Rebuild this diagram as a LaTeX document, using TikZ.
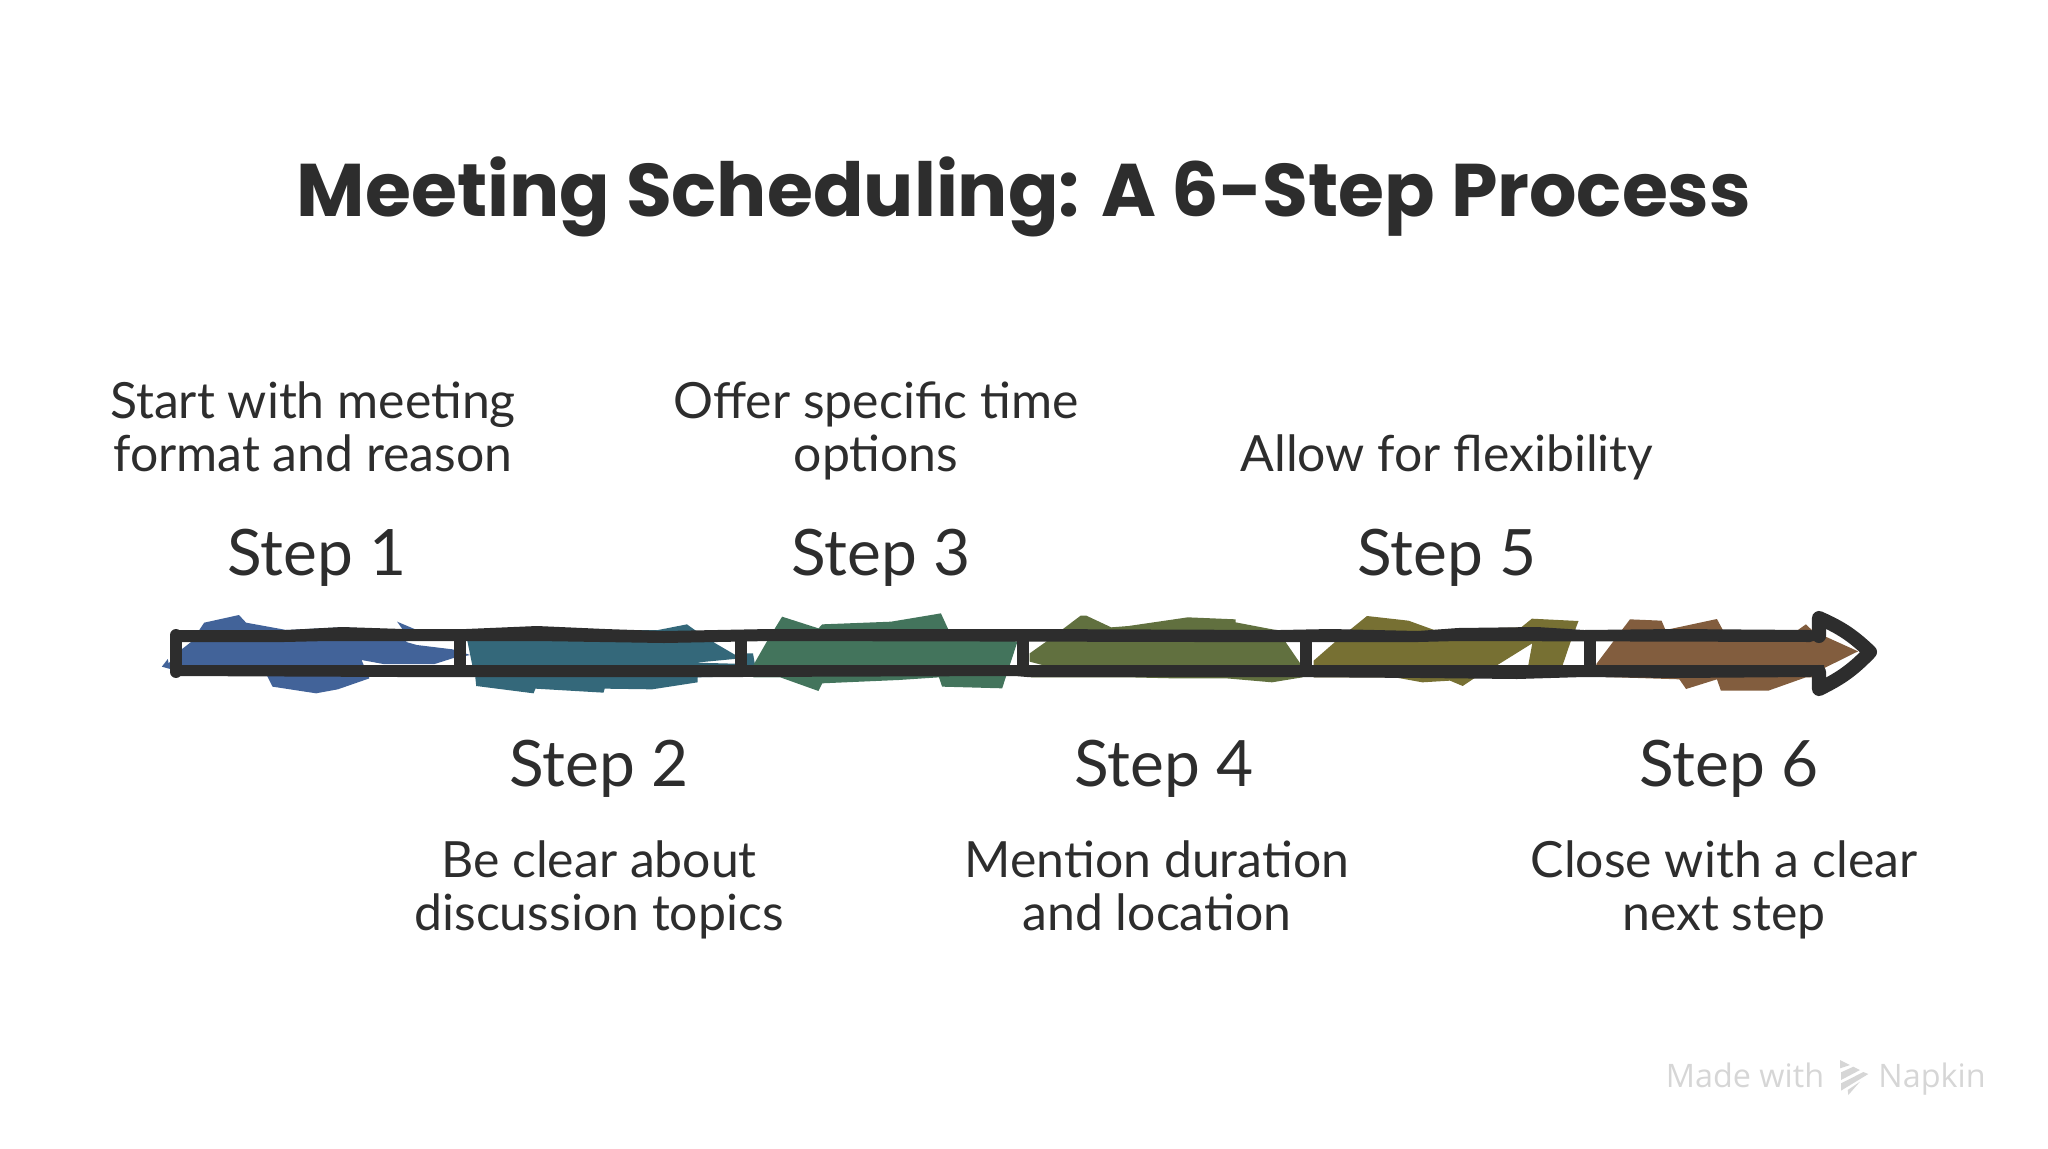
\documentclass[tikz,border=0pt]{standalone}
\usepackage{fontspec}
\setmainfont{Lato}
\newfontfamily\titlefont{Poppins}
\newfontfamily\markfont{Open Sans}
\definecolor{InkDark}{RGB}{45,45,45}
\definecolor{MarkGray}{RGB}{214,214,214}
\definecolor{StepBlue}{RGB}{66,99,153}
\definecolor{StepTeal}{RGB}{52,104,122}
\definecolor{StepGreen}{RGB}{67,116,92}
\definecolor{StepOlive}{RGB}{97,112,63}
\definecolor{StepMustard}{RGB}{119,112,51}
\definecolor{StepBrown}{RGB}{130,93,62}
\def\z{0.3333}
\tikzset{
    titletext/.style={font=\titlefont\bfseries\fontsize{21.2}{26}\selectfont, text=InkDark},
    steptext/.style={font=\fontsize{18.2}{22}\selectfont, text=InkDark},
    desctext/.style={font=\fontsize{14.2}{15.08}\selectfont, text=InkDark, align=center},
    marktext/.style={font=\markfont\fontsize{9.2}{11}\selectfont, text=MarkGray, anchor=base},
    barline/.style={line width=3.4pt, draw=InkDark},
}

\begin{document}
\begin{tikzpicture}[x=0.01cm, y=-0.01cm]
\useasboundingbox (0,0) rectangle (2048,1148);

% titulo
\node[titletext] (title) at (1024,197) {Meeting Scheduling: A 6-Step Process};

% manchas
\begin{scope}[shift={(150,590)}, xscale=0.3954, yscale=\z]
\fill[StepBlue] (30,230) -- (45,207) -- (47,220) -- (80,178) -- (105,155) -- (137,98) -- (225,75) -- (243,98) -- (345,120)
    -- (485,112) -- (640,120) -- (625,95) -- (675,120) -- (665,150) -- (645,155) -- (675,165) -- (765,178) -- (810,195)
    -- (765,205) -- (720,222) -- (590,222) -- (535,210) -- (555,265) -- (475,298) -- (420,310) -- (310,290) -- (295,255)
    -- (60,240) -- cycle;
\fill[StepTeal] (803,155) -- (800,120) -- (1285,120) -- (1358,103) -- (1378,120) -- (1430,160) -- (1495,205) -- (1380,218)
    -- (1510,222) -- (1510,190) -- (1525,190) -- (1535,258) -- (1385,262) -- (1385,277) -- (1270,298) -- (1150,296)
    -- (1147,308) -- (975,296) -- (970,310) -- (825,288) -- (820,230) -- (815,225) -- cycle;
\end{scope}
\begin{scope}[shift={(740,590)}, xscale=0.3827, yscale=\z]
\fill[StepGreen] (35,225) -- (70,155) -- (110,80) -- (205,115) -- (215,103) -- (395,95) -- (525,70) -- (545,120) -- (725,155)
    -- (705,225) -- (695,260) -- (685,295) -- (528,290) -- (520,262) -- (415,270) -- (215,280) -- (205,303) -- (105,262)
    -- (35,262) -- cycle;
\fill[StepOlive] (757,190) -- (800,155) -- (890,77) -- (905,77) -- (970,112) -- (1015,108) -- (1170,82) -- (1295,88)
    -- (1295,97) -- (1400,120) -- (1425,155) -- (1465,222) -- (1470,262) -- (1390,277) -- (1270,265) -- (1130,265)
    -- (1015,262) -- (760,262) -- (790,225) -- (757,215) -- cycle;
\end{scope}
\begin{scope}[shift={(1280,590)}, xscale=0.3954, yscale=\z]
\fill[StepMustard] (85,212) -- (140,155) -- (220,78) -- (325,92) -- (390,120) -- (610,112) -- (637,86) -- (755,93) -- (735,155)
    -- (715,225) -- (628,225) -- (638,160) -- (550,225) -- (495,262) -- (462,288) -- (430,272) -- (360,277) -- (290,262)
    -- (85,262) -- cycle;
\fill[StepBrown] (800,222) -- (885,88) -- (965,92) -- (975,120) -- (1105,87) -- (1120,120) -- (1310,120) -- (1330,103)
    -- (1345,120) -- (1380,140) -- (1462,184) -- (1375,235) -- (1375,262) -- (1330,262) -- (1235,302) -- (1115,302)
    -- (1105,268) -- (1027,297) -- (1010,268) -- (800,260) -- cycle;
\end{scope}

% barra
\fill[InkDark] (174,630) -- (286,630) -- (342,627) -- (403,629) -- (466,629) -- (537,626) -- (605,629) -- (664,631)
    -- (770,629) -- (1027,629) -- (1280,630) -- (1331,629) -- (1418,631) -- (1458,628) -- (1537,627) -- (1584,630)
    -- (1675,629) -- (1810,630) -- (1824,633) -- (1824,638) -- (1810,642) -- (1458,641) -- (1418,642) -- (1199,642)
    -- (770,641) -- (664,643) -- (537,641) -- (328,641) -- (284,642) -- (174,642) -- cycle;
\fill[InkDark] (174,665) -- (1824,665) -- (1824,672) -- (1810,677) -- (1675,678) -- (1584,677) -- (1517,679) -- (1422,678)
    -- (1280,677) -- (1027,677) -- (1015,676) -- (740,677) -- (400,677) -- (174,676) -- cycle;
\draw[barline, line cap=round] (176,635) -- (176,672);
\foreach \x in {460,741,1023,1306,1590}{
    \draw[barline] (\x,636) -- (\x,670);
}
% punta
\draw[barline, line width=4pt, line cap=round, line join=round] (1819,636) -- (1819,618) to[bend left=10] (1870,652) to[bend left=10] (1819,689) -- (1819,672);

% pasos
\node[steptext] (step1) at (317,558) {Step 1};
\node[steptext] (step3) at (881,558) {Step 3};
\node[steptext] (step5) at (1447,558) {Step 5};
\node[steptext] (step2) at (599,769) {Step 2};
\node[steptext] (step4) at (1164,769) {Step 4};
\node[steptext] (step6) at (1729,769) {Step 6};

% textos
\node[desctext] (desc1) at (313,427) {Start with meeting\\format and reason};
\node[desctext] (desc3) at (876,431) {Offer specific time\\options};
\node[desctext] (desc5) at (1447,457) {Allow for flexibility};
\node[desctext] (desc2) at (599,890) {Be clear about\\discussion topics};
\node[desctext] (desc4) at (1157,886) {Mention duration\\and location};
\node[desctext] (desc6) at (1724,890) {Close with a clear\\next step};

% marca
\node[marktext] (madewith) at (1745,1087) {Made with};
\node[marktext] (napkin) at (1932,1087) {Napkin};
\begin{scope}[shift={(1825,1050)}, scale=\z]
\fill[MarkGray] (45,30) -- (75,45) -- (45,55) -- cycle;
\fill[MarkGray] (48,67) -- (85,50) -- (105,60) -- (48,90) -- cycle;
\fill[MarkGray] (48,100) -- (115,66) -- (130,72) -- (48,122) -- cycle;
\fill[MarkGray] (68,120) -- (105,95) -- (70,135) -- cycle;
\end{scope}

\end{tikzpicture}
\end{document}
